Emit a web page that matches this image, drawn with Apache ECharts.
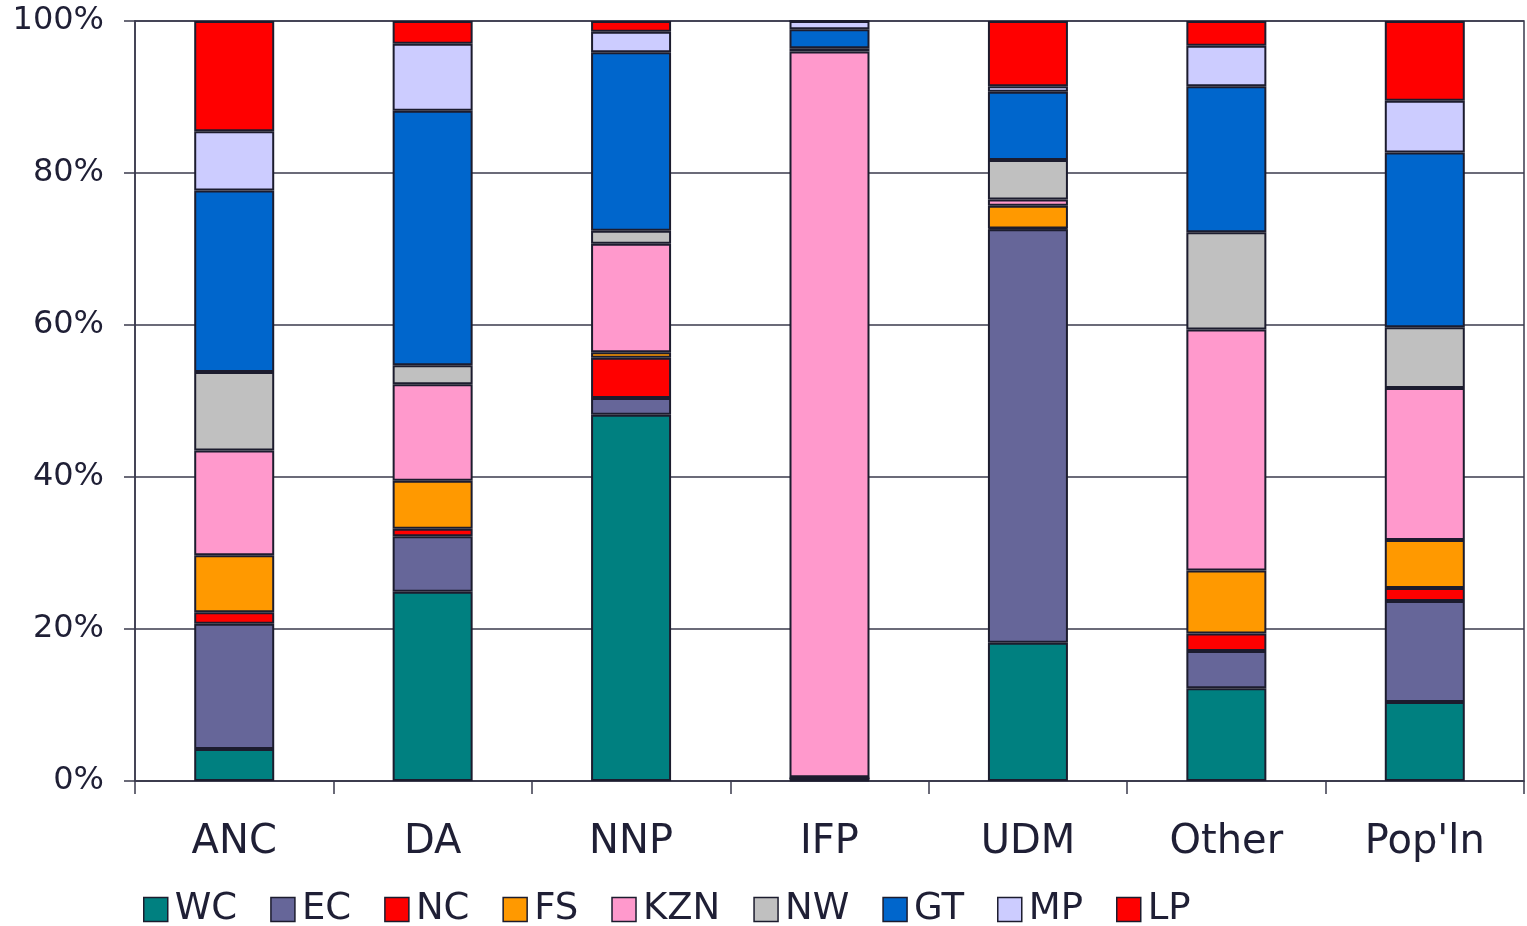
<!DOCTYPE html>
<html>
<head>
<meta charset="utf-8">
<script src="https://cdn.jsdelivr.net/npm/echarts@6/dist/echarts.min.js"></script>
<style>
html,body{margin:0;padding:0;background:#fff;}
#chart{width:1527px;height:926px;}
</style>
</head>
<body>
<div id="chart"></div>
<script>
// Categories (parties)
var categories = ['ANC', 'DA', 'NNP', 'IFP', 'UDM', 'Other', "Pop'ln"];
// Province shares (%) per party
var WC  = [4.2, 24.9, 48.2, 0.1, 18.2, 12.2, 10.4];
var EC  = [16.5, 7.3, 2.2, 0.3, 54.4, 4.9, 13.3];
var NC  = [1.5, 1.0, 5.3, 0.0, 0.1, 2.3, 1.7];
var FS  = [7.5, 6.3, 0.7, 0.1, 3.0, 8.3, 6.3];
var KZN = [13.8, 12.7, 14.3, 95.5, 0.8, 31.7, 20.0];
var NW  = [10.3, 2.5, 1.7, 0.4, 5.2, 12.8, 8.0];
var GT  = [23.9, 33.5, 23.5, 2.5, 9.0, 19.2, 23.0];
var MP  = [7.8, 8.8, 2.7, 1.1, 0.7, 5.35, 6.8];
var LP  = [14.5, 3.0, 1.4, 0.0, 8.6, 3.25, 10.5];
var seriesNames = ['WC', 'EC', 'NC', 'FS', 'KZN', 'NW', 'GT', 'MP', 'LP'];
var yTicks = [0, 20, 40, 60, 80, 100];

var seriesData = [WC, EC, NC, FS, KZN, NW, GT, MP, LP];
var colors = ['#008080', '#666699', '#FF0000', '#FF9900', '#FF99CC', '#C0C0C0', '#0066CC', '#CCCCFF', '#FF0000'];
var textColor = '#1f1f35';
var lineColor = '#3a3a4c';
var fontFam = 'DejaVu Sans';

var chart = echarts.init(document.getElementById('chart'), null, {renderer: 'canvas'});
var series = seriesNames.map(function (n, i) {
  return {
    name: n,
    type: 'bar',
    stack: 'total',
    barWidth: 80,
    data: seriesData[i],
    itemStyle: { color: colors[i], borderColor: '#1c1c2e', borderWidth: 2 },
    emphasis: { disabled: true }
  };
});

chart.setOption({
  animation: false,
  backgroundColor: '#ffffff',
  color: colors,
  grid: {
    left: 135, right: 3, top: 21, bottom: 145,
    show: true, borderColor: lineColor, borderWidth: 1.5, backgroundColor: 'transparent'
  },
  legend: {
    data: seriesNames,
    left: 138,
    top: 886,
    itemWidth: 24,
    itemHeight: 24,
    itemGap: 33,
    icon: 'rect',
    itemStyle: { borderColor: '#1c1c2e', borderWidth: 1.5 },
    textStyle: { fontFamily: fontFam, fontSize: 37, color: textColor, padding: [0, 0, 0, 2] }
  },
  xAxis: {
    type: 'category',
    data: categories,
    axisLine: { show: true, lineStyle: { color: lineColor, width: 1.5 } },
    axisTick: { show: true, length: 13, lineStyle: { color: lineColor, width: 1.5 } },
    axisLabel: { fontFamily: fontFam, fontSize: 40, color: textColor, margin: 42 }
  },
  yAxis: {
    type: 'value',
    min: yTicks[0],
    max: yTicks[yTicks.length - 1],
    interval: 20,
    axisLine: { show: true, lineStyle: { color: lineColor, width: 1.5 } },
    axisTick: { show: true, length: 11, lineStyle: { color: lineColor, width: 1.5 } },
    splitLine: { show: true, lineStyle: { color: lineColor, width: 1.5 } },
    axisLabel: { fontFamily: fontFam, fontSize: 32, color: textColor, margin: 31, formatter: '{value}%' }
  },
  series: series
});
</script>
</body>
</html>
